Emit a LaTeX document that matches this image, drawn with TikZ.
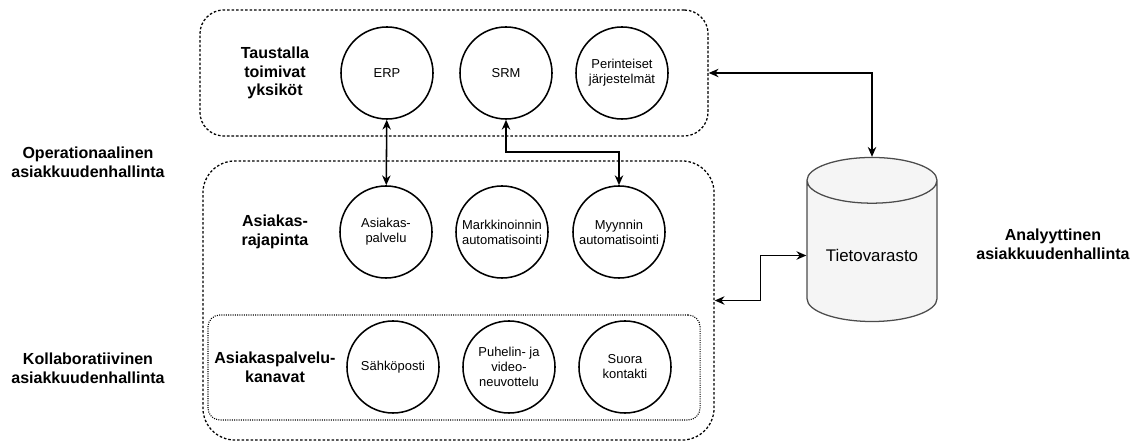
\documentclass[tikz,border=0pt]{standalone}
\usepackage{fontspec}
\setmainfont{Liberation Sans}
\usetikzlibrary{shapes.geometric,arrows.meta}
\tikzset{
  unit/.style={draw,circle,line width=1.1pt,minimum size=2.3cm,inner sep=0pt,align=center,font=\fontsize{9.2}{10.6}\selectfont},
  grp/.style={font=\fontsize{11.4}{13.2}\selectfont\bfseries,align=center},
  area/.style={draw,rounded corners=0.6cm,dash pattern=on 1.8pt off 1.4pt,line width=0.9pt},
  link/.style={line width=1.1pt,{Stealth[length=7pt,width=6pt]}-{Stealth[length=7pt,width=6pt]}}
}
\begin{document}
\begin{tikzpicture}[x=0.025cm,y=-0.025cm]
\useasboundingbox (0,0) rectangle (1145,444);
% ryhmat
\node[area,minimum width=12.7cm,minimum height=3.15cm] (tausta) at (454,73) {};
\node[area,rounded corners=0.8cm,minimum width=12.775cm,minimum height=6.975cm] (raja) at (458.5,300.5) {};
\node[draw,rounded corners=0.3cm,dash pattern=on 0.7pt off 0.9pt,line width=0.8pt,minimum width=12.3cm,minimum height=2.625cm] (kanava) at (454,367.5) {};
% otsikot
\node[grp] (l1) at (275,73) {Taustalla\\toimivat\\yksiköt};
\node[grp] (l2) at (275,232) {Asiakas-\\rajapinta};
\node[grp] (l3) at (275,367) {Asiakaspalvelu-\\kanavat};
\node[grp] (op) at (88,162) {Operationaalinen\\asiakkuudenhallinta};
\node[grp] (ko) at (88,368) {Kollaboratiivinen\\asiakkuudenhallinta};
\node[grp] (an) at (1053,244) {Analyyttinen\\asiakkuudenhallinta};
% yksikot
\node[unit] (erp) at (387,73) {ERP};
\node[unit] (srm) at (506,73) {SRM};
\node[unit] (per) at (622,73) {Perinteiset\\järjestelmät};
\node[unit] (asp) at (386,232) {Asiakas-\\palvelu};
\node[unit] (mar) at (502,232) {Markkinoinnin\\automatisointi};
\node[unit] (myy) at (619,232) {Myynnin\\automatisointi};
\node[unit] (sah) at (393,367) {Sähköposti};
\node[unit] (puh) at (509,367) {Puhelin- ja\\video-\\neuvottelu};
\node[unit] (suo) at (625,367) {Suora\\kontakti};
% tietovarasto
\node[draw=black!70,fill=black!4,line width=0.9pt,cylinder,shape border rotate=90,aspect=0.45,
  minimum width=3.25cm,minimum height=4.1cm,font=\fontsize{12}{14}\selectfont] (db) at (872,255.5) {Tietovarasto};
% yhteydet
\draw[link] (erp) -- (asp);
\draw[link] (srm.south) -- ++(0,32) -| (myy.north);
\draw[link] (tausta.east) -| (db.north);
\draw[link] (raja.east) -- ++(46,0) |- (db.west);
\end{tikzpicture}
\end{document}
